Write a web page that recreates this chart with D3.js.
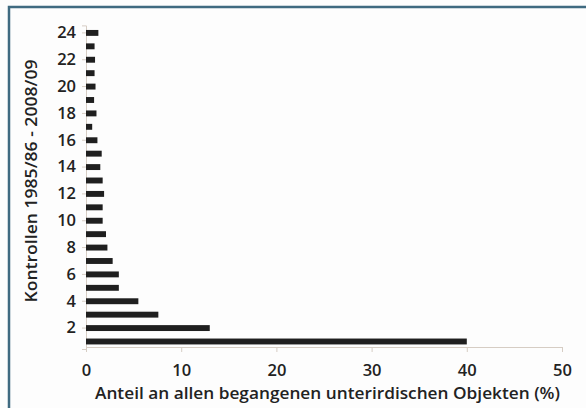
<!DOCTYPE html>
<html>
<head>
<meta charset="utf-8">
<script src="https://cdn.jsdelivr.net/npm/d3@7"></script>
<style>
  body { margin: 0; background: #fdfdfd; }
  svg { display: block; font-family: "Open Sans", sans-serif; }
</style>
</head>
<body>
<script>
// Anzahl Kontrollen (1 .. 24) und Anteil in %
var kontrollen = d3.range(1, 25);
var anteil = [40, 13, 7.6, 5.5, 3.45, 3.45, 2.8, 2.25, 2.1, 1.75, 1.75, 1.9,
              1.75, 1.5, 1.65, 1.2, 0.65, 1.1, 0.85, 1.0, 0.9, 0.95, 0.9, 1.3];
var xTicks = [0, 10, 20, 30, 40, 50];
var yTicks = [2, 4, 6, 8, 10, 12, 14, 16, 18, 20, 22, 24];
var xTitle = "Anteil an allen begangenen unterirdischen Objekten (%)";
var yTitle = "Kontrollen 1985/86 - 2008/09";

var width = 586,
    height = 408;

var svg = d3.select("body")
  .append("svg")
    .attr("width", width)
    .attr("height", height);

// Rahmen (nur oben und links sichtbar)
svg.append("path")
  .attr("d", "M 9 408 V 7 H 586")
  .attr("fill", "none")
  .attr("stroke", "#3f6a80")
  .attr("stroke-width", 2.5);

var x = d3.scaleLinear()
  .domain([0, 50])
  .range([86, 562]);

var y = d3.scaleBand()
  .domain(kontrollen)
  .range([349, 25.4])
  .paddingInner(0.56)
  .paddingOuter(0.34);

var data = kontrollen.map(function(k, i) {
  return {k: k, v: anteil[i]};
});

var axisColor = "#d6cdc4";

var xAxis = svg.append("g")
  .attr("transform", "translate(0,347)")
  .call(d3.axisBottom(x).tickValues(xTicks).tickSize(5).tickPadding(12));

var yAxis = svg.append("g")
  .attr("transform", "translate(86,0)")
  .call(d3.axisLeft(y).tickValues(yTicks).tickSize(4).tickPadding(6));

[xAxis, yAxis].forEach(function(a) {
  a.select(".domain").attr("stroke", axisColor);
  a.selectAll(".tick line").attr("stroke", axisColor);
  a.selectAll(".tick text")
    .attr("fill", "#222")
    .style("font-size", "16.5px")
    .style("font-weight", "600")
    .style("font-family", "'Open Sans', sans-serif");
});

svg.selectAll(".bar")
    .data(data)
    .enter()
  .append("rect")
    .attr("class", "bar")
    .attr("x", x(0))
    .attr("y", function(d) { return y(d.k); })
    .attr("width", function(d) { return x(d.v) - x(0); })
    .attr("height", y.bandwidth())
    .attr("fill", "#1f1f1f");

svg.append("text")
  .attr("x", 327.5)
  .attr("y", 399)
  .attr("text-anchor", "middle")
  .attr("fill", "#222")
  .style("font-size", "17px")
  .style("font-weight", "600")
  .attr("textLength", 465)
  .attr("lengthAdjust", "spacingAndGlyphs")
  .text(xTitle);

svg.append("text")
  .attr("transform", "translate(37,181) rotate(-90)")
  .attr("text-anchor", "middle")
  .attr("fill", "#222")
  .style("font-size", "17px")
  .style("font-weight", "600")
  .attr("textLength", 243)
  .attr("lengthAdjust", "spacingAndGlyphs")
  .text(yTitle);
</script>
</body>
</html>
